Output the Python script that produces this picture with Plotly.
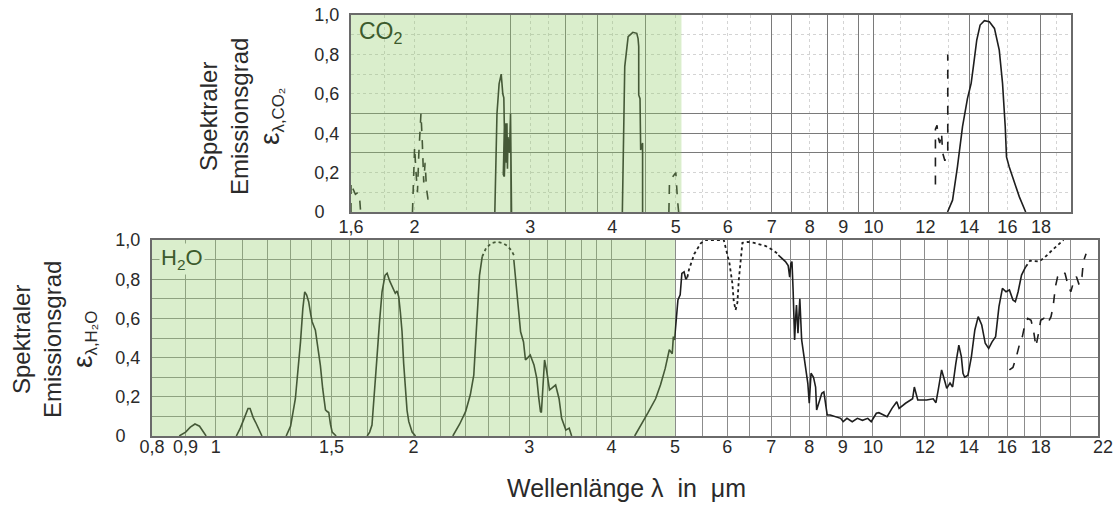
import numpy as np
import plotly.graph_objects as go

W, H = 1113, 511

# ---------------- data: H2O (bottom panel) ----------------
H2O_B1_WL = [0.88, 0.90, 0.915, 0.93, 0.945, 0.955, 0.967]
H2O_B1_EPS = [0.0, 0.02, 0.045, 0.061, 0.05, 0.025, 0.0]

H2O_B2_WL = [1.075, 1.09, 1.105, 1.12, 1.128, 1.14, 1.15, 1.16, 1.176]
H2O_B2_EPS = [0.0, 0.04, 0.09, 0.14, 0.14, 0.095, 0.07, 0.04, 0.0]

H2O_B3_WL = [1.28, 1.30, 1.322, 1.335, 1.346, 1.357, 1.366, 1.375, 1.385, 1.395, 1.402,
             1.418, 1.43, 1.443, 1.455, 1.469, 1.478, 1.486, 1.495, 1.504, 1.525]
H2O_B3_EPS = [0.0, 0.05, 0.19, 0.33, 0.48, 0.65, 0.735, 0.72, 0.685, 0.62, 0.583,
              0.54, 0.45, 0.36, 0.24, 0.133, 0.125, 0.12, 0.06, 0.02, 0.0]

H2O_B4_WL = [1.70, 1.715, 1.729, 1.745, 1.759, 1.775, 1.791, 1.81, 1.823, 1.84, 1.855, 1.866,
             1.876, 1.888, 1.899, 1.91, 1.921, 1.932, 1.944, 1.955, 1.967, 1.99, 2.014]
H2O_B4_EPS = [0.0, 0.02, 0.056, 0.22, 0.396, 0.58, 0.736, 0.82, 0.83, 0.79, 0.762, 0.74,
              0.728, 0.74, 0.71, 0.63, 0.532, 0.37, 0.226, 0.13, 0.073, 0.02, 0.0]

H2O_B5A_WL = [2.295, 2.35, 2.40, 2.44, 2.47, 2.49, 2.50, 2.52, 2.544]
H2O_B5A_EPS = [0.0, 0.06, 0.124, 0.21, 0.311, 0.50, 0.651, 0.82, 0.915]

H2O_B5_DOT_WL = [2.544, 2.58, 2.63, 2.68, 2.73, 2.78, 2.82, 2.842]
H2O_B5_DOT_EPS = [0.915, 0.96, 0.985, 0.99, 0.985, 0.97, 0.945, 0.923]

H2O_B5B_WL = [2.842, 2.87, 2.89, 2.91, 2.94, 2.96, 2.985, 3.01, 3.05, 3.08, 3.10, 3.12, 3.13,
              3.15, 3.165, 3.19, 3.22, 3.25, 3.29, 3.33, 3.36, 3.41, 3.45, 3.48]
H2O_B5B_EPS = [0.898, 0.736, 0.62, 0.532, 0.48, 0.388, 0.40, 0.413, 0.362, 0.294, 0.20, 0.124, 0.12,
               0.28, 0.388, 0.328, 0.235, 0.245, 0.26, 0.19, 0.09, 0.03, 0.04, 0.0]

H2O_B6_WL = [4.34, 4.45, 4.55, 4.67, 4.75, 4.83, 4.90, 4.95, 4.97, 4.99, 5.02, 5.05,
             5.09, 5.12, 5.16, 5.19, 5.22]
H2O_B6_EPS = [0.0, 0.06, 0.12, 0.19, 0.26, 0.345, 0.44, 0.42, 0.507, 0.49, 0.59, 0.694,
              0.72, 0.83, 0.838, 0.80, 0.81]

H2O_MID_DOT_WL = [5.22, 5.25, 5.35, 5.47, 5.56, 5.75, 5.93, 5.98, 6.05, 6.11, 6.14, 6.18,
                  6.22, 6.25, 6.29, 6.33, 6.45, 6.6, 6.86, 7.03, 7.16, 7.18]
H2O_MID_DOT_EPS = [0.81, 0.85, 0.93, 0.983, 1.0, 1.0, 1.0, 0.95, 0.88, 0.78, 0.69, 0.643,
                   0.68, 0.796, 0.915, 0.986, 0.99, 0.985, 0.97, 0.95, 0.93, 0.923]

H2O_B7_WL = [7.18, 7.36, 7.43, 7.47, 7.50, 7.53, 7.56, 7.60, 7.63, 7.65, 7.69, 7.74, 7.79,
             7.90, 7.96, 8.0, 8.05, 8.12, 8.18, 8.21, 8.28, 8.36, 8.42, 8.46, 8.52, 8.61,
             8.76, 8.93, 9.01, 9.13, 9.30, 9.47, 9.64, 9.82, 9.94, 10.12, 10.21, 10.51,
             10.69, 10.87, 10.96, 11.21, 11.49, 11.56, 11.70, 12.07, 12.35, 12.47, 12.57,
             12.72, 12.87, 12.95, 13.10, 13.22, 13.37, 13.51, 13.63, 13.71, 13.79, 13.95,
             14.12, 14.29, 14.46, 14.64, 14.82, 15.0, 15.18, 15.37, 15.55, 15.74, 15.94,
             16.13, 16.33, 16.47, 16.63, 16.83, 17.08]
H2O_B7_EPS = [0.923, 0.89, 0.87, 0.81, 0.88, 0.89, 0.745, 0.49, 0.609, 0.668, 0.524, 0.70, 0.49,
              0.337, 0.269, 0.167, 0.32, 0.30, 0.25, 0.133, 0.175, 0.218, 0.225, 0.167, 0.107, 0.107,
              0.10, 0.09, 0.073, 0.09, 0.073, 0.09, 0.08, 0.09, 0.073, 0.116, 0.119, 0.099,
              0.141, 0.175, 0.141, 0.167, 0.19, 0.25, 0.184, 0.184, 0.19, 0.17, 0.235,
              0.337, 0.277, 0.243, 0.27, 0.25, 0.37, 0.464, 0.405, 0.32, 0.30, 0.31,
              0.405, 0.541, 0.609, 0.566, 0.473, 0.447, 0.48, 0.507, 0.66, 0.753, 0.736,
              0.745, 0.694, 0.685, 0.736, 0.821, 0.864]

H2O_END_DOT_WL = [17.08, 17.34, 17.88, 18.2, 18.75, 19.35, 19.5]
H2O_END_DOT_EPS = [0.864, 0.894, 0.89, 0.907, 0.949, 0.99, 1.0]

H2O_DASH_WL = [16.13, 16.33, 16.53, 16.7, 16.88, 17.0, 17.2, 17.4, 17.55, 17.7, 17.9, 18.0, 18.2,
               18.45, 18.66, 18.8, 18.95, 19.1, 19.35, 19.6, 19.8, 20.0, 20.2, 20.4, 20.6,
               20.8, 20.9, 21.1]
H2O_DASH_EPS = [0.337, 0.35, 0.405, 0.464, 0.507, 0.558, 0.60, 0.59, 0.54, 0.456, 0.54, 0.59, 0.60,
                0.575, 0.609, 0.66, 0.762, 0.813, 0.838, 0.83, 0.77, 0.736, 0.787, 0.813, 0.77,
                0.813, 0.89, 0.93]

# ---------------- data: CO2 (top panel) ----------------
CO2_A_WL = [1.6, 1.6, 1.61, 1.625, 1.64, 1.65, 1.655]
CO2_A_EPS = [0.0, 0.15, 0.12, 0.09, 0.10, 0.06, 0.0]

CO2_B_WL = [1.985, 1.995, 2.0, 2.01, 2.02, 2.03, 2.045, 2.055, 2.065, 2.075, 2.085, 2.095, 2.1]
CO2_B_EPS = [0.0, 0.2, 0.33, 0.2, 0.1, 0.3, 0.5, 0.35, 0.15, 0.25, 0.12, 0.07, 0.05]

CO2_C_WL = [2.65, 2.66, 2.67, 2.69, 2.71, 2.725, 2.735, 2.74, 2.735, 2.73, 2.74, 2.75, 2.755,
            2.76, 2.765, 2.77, 2.775, 2.79, 2.80, 2.81]
CO2_C_EPS = [0.0, 0.35, 0.5, 0.65, 0.70, 0.60, 0.58, 0.43, 0.30, 0.19, 0.18, 0.40, 0.45,
             0.25, 0.45, 0.22, 0.38, 0.30, 0.50, 0.0]

CO2_D_WL = [4.145, 4.16, 4.18, 4.23, 4.30, 4.36, 4.38, 4.39, 4.39, 4.41, 4.42, 4.45, 4.45]
CO2_D_EPS = [0.0, 0.4, 0.738, 0.89, 0.912, 0.907, 0.88, 0.84, 0.594, 0.575, 0.315, 0.35, 0.0]

CO2_E_WL = [4.88, 4.89, 4.95, 5.0, 5.03, 5.05]
CO2_E_EPS = [0.0, 0.15, 0.18, 0.2, 0.06, 0.0]

CO2_F_WL = [12.43, 12.43, 12.5, 12.55, 12.62, 12.7, 12.75, 12.85, 12.9, 12.98, 12.98]
CO2_F_EPS = [0.14, 0.42, 0.44, 0.38, 0.35, 0.40, 0.30, 0.26, 0.28, 0.30, 0.80]

CO2_G_WL = [12.97, 13.2, 13.43, 13.67, 13.91, 14.09, 14.2, 14.37, 14.54, 14.76, 15.02, 15.29,
            15.55, 15.73, 15.88, 15.95, 16.1, 16.38, 16.68, 17.06]
CO2_G_EPS = [0.0, 0.06, 0.23, 0.433, 0.577, 0.653, 0.738, 0.873, 0.949, 0.971, 0.966, 0.932,
             0.822, 0.653, 0.433, 0.28, 0.23, 0.154, 0.078, 0.0]

# ---------------- axis ticks / grid values ----------------
NB = "\u00a0"
BOT_XTICKS = [0.8, 0.9, 1, 1.5, 2, 3, 4, 5, 6, 7, 8, 9, 10, 12, 14, 16, 18, 22]
BOT_XTEXT = ["0,8", "0,9", "1", "1,5", "2", "3", "4", "5", "6", "7", "8", "9",
             "10", "12", "14", "16", "18", NB * 2 + "22"]
TOP_XTICKS = [1.6, 2, 3, 4, 5, 6, 7, 8, 9, 10, 12, 14, 16, 18]
TOP_XTEXT = ["1,6", "2", "3", "4", "5", "6", "7", "8", "9", "10", "12", "14", "16", "18"]
Y_TICKS = [0, 0.2, 0.4, 0.6, 0.8, 1.0]
Y_TEXT = ["0" + NB * 3, "0,2", "0,4", "0,6", "0,8", "1,0"]

BOT_GRID_X = [0.9, 1.0, 1.1, 1.2, 1.3, 1.4, 1.5, 1.6, 1.7, 1.8, 1.9, 2.0, 2.2, 2.4, 2.6, 2.8,
              3.0, 3.2, 3.4, 3.6, 3.8, 4.0, 4.5, 5.0, 5.5, 6.0, 6.5, 7.0, 7.5, 8.0, 8.5, 9.0,
              10, 11, 12, 13, 14, 15, 16, 17, 18, 20]
BOT_GRID_Y_MINOR = [0.1, 0.3, 0.5, 0.7, 0.9]
TOP_GRID_X_DARK = [2.8, 3.4, 3.8, 4.5, 7, 7.5, 8.5, 9.5, 10, 14, 15, 18]
TOP_GRID_X_LIGHT = [1.8, 2.0, 2.4, 3.0, 3.2, 3.6, 4.0, 5.0, 5.5, 6, 6.5, 8, 9, 11, 13, 16, 19]
TOP_GRID_Y_DARK = [0.3, 0.4, 0.5]
TOP_GRID_Y_LIGHT = [0.1, 0.2, 0.6, 0.7, 0.8, 0.9]

BOT_GREEN = [0.8, 5.0]
TOP_GREEN = [1.6, 5.1]


def join(*segs):
    xs, ys = [], []
    for i in range(0, len(segs), 2):
        if xs:
            xs.append(None)
            ys.append(None)
        xs.extend(segs[i])
        ys.extend(segs[i + 1])
    return xs, ys


def px_x(p):
    return p / W


def px_y(p):
    return 1 - p / H


FONT = "Liberation Sans, Arial, sans-serif"
LINE = "#1e1e1e"

fig = go.Figure()

# bottom panel traces
sx, sy = join(H2O_B1_WL, H2O_B1_EPS, H2O_B2_WL, H2O_B2_EPS, H2O_B3_WL, H2O_B3_EPS,
              H2O_B4_WL, H2O_B4_EPS, H2O_B5A_WL, H2O_B5A_EPS, H2O_B5B_WL, H2O_B5B_EPS,
              H2O_B6_WL, H2O_B6_EPS, H2O_B7_WL, H2O_B7_EPS)
fig.add_trace(go.Scatter(x=sx, y=sy, mode="lines", line=dict(color=LINE, width=1.6),
                         xaxis="x", yaxis="y", connectgaps=False))
dx, dy = join(H2O_B5_DOT_WL, H2O_B5_DOT_EPS, H2O_MID_DOT_WL, H2O_MID_DOT_EPS,
              H2O_END_DOT_WL, H2O_END_DOT_EPS)
fig.add_trace(go.Scatter(x=dx, y=dy, mode="lines", line=dict(color=LINE, width=1.8, dash="dot"),
                         xaxis="x", yaxis="y"))
fig.add_trace(go.Scatter(x=H2O_DASH_WL, y=H2O_DASH_EPS, mode="lines",
                         line=dict(color=LINE, width=1.6, dash="dash"), xaxis="x", yaxis="y"))

# top panel traces
sx, sy = join(CO2_C_WL, CO2_C_EPS, CO2_D_WL, CO2_D_EPS, CO2_G_WL, CO2_G_EPS)
fig.add_trace(go.Scatter(x=sx, y=sy, mode="lines", line=dict(color=LINE, width=1.6),
                         xaxis="x2", yaxis="y2"))
dx, dy = join(CO2_A_WL, CO2_A_EPS, CO2_B_WL, CO2_B_EPS, CO2_E_WL, CO2_E_EPS, CO2_F_WL, CO2_F_EPS)
fig.add_trace(go.Scatter(x=dx, y=dy, mode="lines", line=dict(color=LINE, width=1.6, dash="dash"),
                         xaxis="x2", yaxis="y2"))

# invisible traces so grid overlay axes get their subplots
for xa, ya in [("x3", "y"), ("x4", "y2"), ("x2", "y3")]:
    fig.add_trace(go.Scatter(x=[None], y=[None], mode="lines", xaxis=xa, yaxis=ya,
                             hoverinfo="skip"))

tickfont = dict(family=FONT, size=18, color="#2a2a2a")
frame = dict(showline=True, mirror=True, linecolor="#6a6a6a", linewidth=2, zeroline=False,
             ticks="", automargin=False, ticklabeloverflow="allow")
GRID = "#8c8c8c"
GRID_DARK = "#7a7a7a"
GRID_LIGHT = "#d4d4d4"

EPS_R = 1e-6
bx_dom = [px_x(152), px_x(1098)]
tx_dom = [px_x(351), px_x(1071)]
by_dom = [px_y(436), px_y(240)]
ty_dom = [px_y(212), px_y(15)]
bx_rng = [np.log10(0.8) - EPS_R, np.log10(22) + EPS_R]
tx_rng = [np.log10(1.6) - EPS_R, np.log10(20) + EPS_R]

hidden = dict(showticklabels=False, ticks="", showline=False, zeroline=False, automargin=False)

fig.update_layout(
    width=W, height=H, margin=dict(l=0, r=0, t=0, b=0, autoexpand=False),
    paper_bgcolor="white", plot_bgcolor="white", showlegend=False,
    xaxis=dict(domain=bx_dom, type="log", range=bx_rng, tickmode="array",
               tickvals=BOT_XTICKS, ticktext=BOT_XTEXT, showgrid=False, anchor="y",
               tickangle=0, tickfont=tickfont, ticklabelstandoff=-7, **frame),
    yaxis=dict(domain=by_dom, range=[0, 1], tickmode="array", tickvals=Y_TICKS, ticktext=Y_TEXT,
               showgrid=True, gridcolor=GRID, gridwidth=1.3,
               minor=dict(tickmode="array", tickvals=BOT_GRID_Y_MINOR, showgrid=True,
                          gridcolor=GRID, gridwidth=1.3, ticks=""),
               anchor="x", tickfont=tickfont, ticklabelstandoff=6, **frame),
    xaxis3=dict(overlaying="x", anchor="y", type="log", range=bx_rng, tickmode="array",
                tickvals=BOT_GRID_X, showgrid=True, gridcolor=GRID, gridwidth=1.3, **hidden),
    xaxis2=dict(domain=tx_dom, type="log", range=tx_rng, tickmode="array",
                tickvals=TOP_XTICKS, ticktext=TOP_XTEXT, showgrid=False, anchor="y2",
                tickangle=0, tickfont=tickfont, ticklabelstandoff=-3, **frame),
    yaxis2=dict(domain=ty_dom, range=[0, 1], tickmode="array", tickvals=Y_TICKS, ticktext=Y_TEXT,
                showgrid=False, anchor="x2", tickfont=tickfont, ticklabelstandoff=6, **frame),
    xaxis4=dict(overlaying="x2", anchor="y2", type="log", range=tx_rng, tickmode="array",
                tickvals=TOP_GRID_X_DARK, showgrid=True, gridcolor=GRID_DARK, gridwidth=1.3,
                minor=dict(tickmode="array", tickvals=TOP_GRID_X_LIGHT, showgrid=True,
                           gridcolor=GRID_LIGHT, gridwidth=1.2, griddash="dot", ticks=""),
                **hidden),
    yaxis3=dict(overlaying="y2", anchor="x2", range=[0, 1], tickmode="array",
                tickvals=TOP_GRID_Y_DARK, showgrid=True, gridcolor=GRID_DARK, gridwidth=1.3,
                minor=dict(tickmode="array", tickvals=TOP_GRID_Y_LIGHT, showgrid=True,
                           gridcolor=GRID_LIGHT, gridwidth=1.2, griddash="dot", ticks=""),
                **hidden),
)

# green highlighted wavelength band (translucent, on top to tint curves & grid)
GREEN = "rgb(147,206,106)"
fig.add_shape(type="rect", xref="x", yref="y", x0=BOT_GREEN[0], x1=BOT_GREEN[1], y0=0, y1=1,
              fillcolor=GREEN, opacity=0.34, line_width=0, layer="above")
fig.add_shape(type="rect", xref="x2", yref="y2", x0=TOP_GREEN[0], x1=TOP_GREEN[1], y0=0, y1=1,
              fillcolor=GREEN, opacity=0.34, line_width=0, layer="above")

GTXT = "#3c5a2c"
fig.add_annotation(text="CO<sub>2</sub>", xref="paper", yref="paper", x=px_x(357), y=px_y(33),
                   xanchor="left", yanchor="middle", showarrow=False,
                   font=dict(family=FONT, size=23, color=GTXT))
fig.add_annotation(text="H<sub>2</sub>O", xref="paper", yref="paper", x=px_x(159), y=px_y(259),
                   xanchor="left", yanchor="middle", showarrow=False, bgcolor="#daeecc",
                   font=dict(family=FONT, size=22, color=GTXT))

ytitle_font = dict(family=FONT, size=24, color="#2a2a2a")
fig.add_annotation(text="Spektraler<br>Emissionsgrad<br><span style='font-size:28px'>ε</span>"
                        "<sub>λ,CO₂</sub>",
                   xref="paper", yref="paper", x=px_x(242), y=px_y(117), textangle=-90,
                   xanchor="center", yanchor="middle", showarrow=False, font=ytitle_font)
fig.add_annotation(text="Spektraler<br>Emissionsgrad<br><span style='font-size:28px'>ε</span>"
                        "<sub>λ,H₂O</sub>",
                   xref="paper", yref="paper", x=px_x(54), y=px_y(340), textangle=-90,
                   xanchor="center", yanchor="middle", showarrow=False, font=ytitle_font)
fig.add_annotation(text="Wellenlänge" + NB + "λ" + NB * 2 + "in" + NB * 2 + "μm",
                   xref="paper", yref="paper", x=px_x(626), y=px_y(488),
                   xanchor="center", yanchor="middle", showarrow=False,
                   font=dict(family=FONT, size=25, color="#2a2a2a"))

fig.write_html("out.html")
